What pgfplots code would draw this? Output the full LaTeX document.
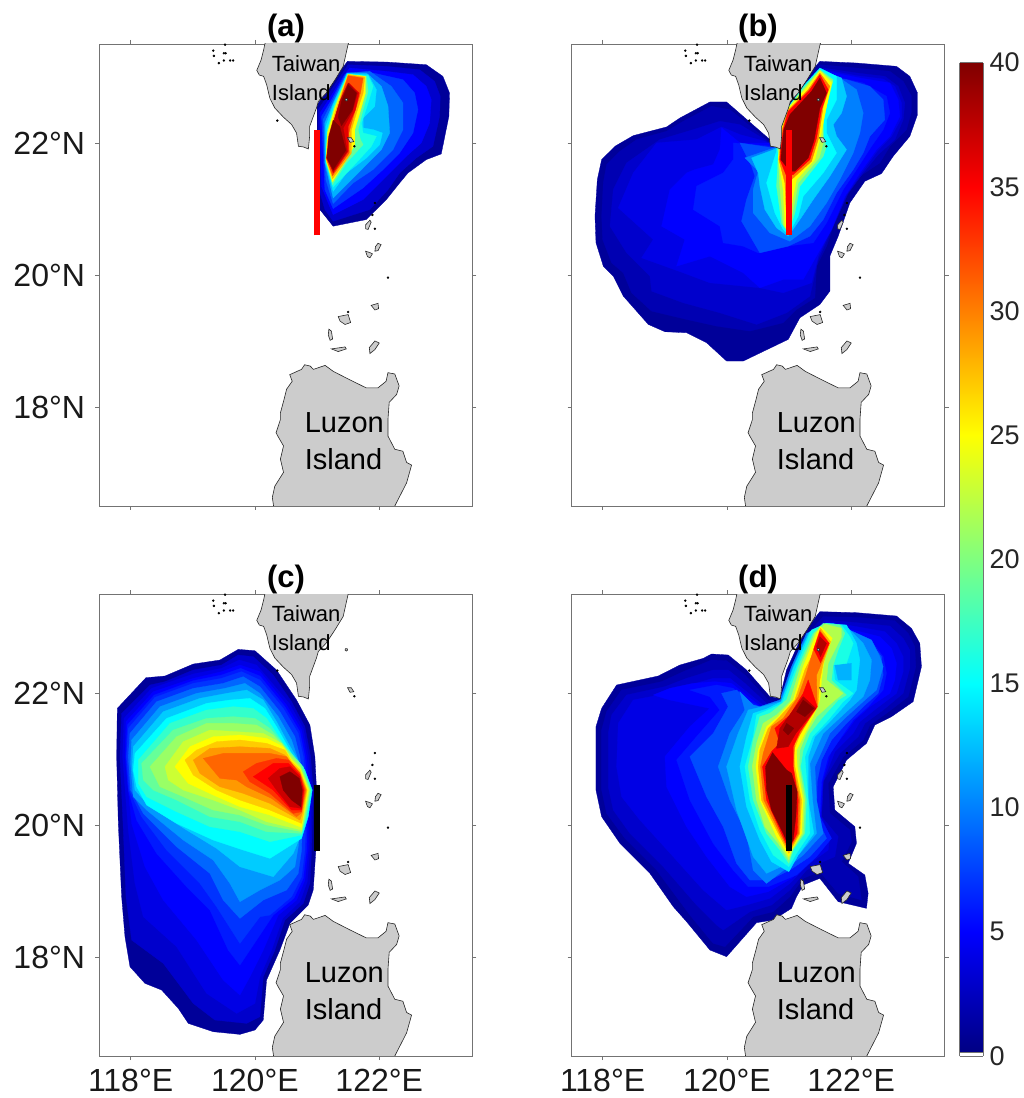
\documentclass[border=0pt]{standalone}
\usepackage{pgfplots}
\pgfplotsset{compat=1.18}
\usepackage{fontspec}
\setmainfont{Liberation Sans}
\newcommand\defjet[1]{%
\pgfmathsetmacro\rr{min(1,max(0,min((#1-15)/10,(45-#1)/10)))}%
\pgfmathsetmacro\gg{min(1,max(0,min((#1-5)/10,(35-#1)/10)))}%
\pgfmathsetmacro\bb{min(1,max(0,min((#1+5)/10,(25-#1)/10)))}%
\definecolor{j#1}{rgb}{\rr,\gg,\bb}}
\defjet{1}\defjet{2}\defjet{3}\defjet{4}\defjet{5}\defjet{6}\defjet{7}\defjet{8}\defjet{9}\defjet{10}\defjet{11}\defjet{12}\defjet{13}\defjet{14}\defjet{15}\defjet{16}\defjet{17}\defjet{18}\defjet{19}\defjet{21}\defjet{22}\defjet{23}\defjet{25}\defjet{27}\defjet{28}\defjet{29}\defjet{30}\defjet{31}\defjet{32}\defjet{33}\defjet{35}\defjet{36}\defjet{37}\defjet{38}\defjet{40}
\definecolor{landg}{rgb}{.8,.8,.8}
\definecolor{coast}{rgb}{.15,.15,.15}
% contours are digitised on the figure; each filter calibrates them to lon/lat
\pgfplotsset{
 pa/.style={x filter/.expression={119.12+x/187},y filter/.expression={23.716-y/198.2}},
 pb/.style={x filter/.expression={117.476+x/186.6},y filter/.expression={23.565-y/198.2}},
 pc/.style={x filter/.expression={117.508+x/186.6},y filter/.expression={23.56-y/198}},
 pd/.style={x filter/.expression={117.797+x/186.6},y filter/.expression={23.409-y/198}},
 mapax/.style={scale only axis,width=373pt,height=462pt,xmin=117.5,xmax=123.5,ymin=16.5,ymax=23.5,
  xtick={118,120,122},ytick={18,20,22},tick align=outside,major tick length=4pt,
  axis line style={black!55,line width=.7pt},tick style={black!55,line width=.6pt},
  tick label style={font=\fontsize{32}{33}\selectfont,text=black!90},
  yticklabel style={xshift=-7pt},xticklabel style={yshift=-6pt},
  title style={font=\bfseries\fontsize{31}{32}\selectfont,at={(0.5,1)},anchor=base,yshift=1pt},
  clip=true},
 nox/.style={xticklabels={}},
 noy/.style={yticklabels={}},
 yesx/.style={xticklabels={118°E,120°E,122°E}},
 yesy/.style={yticklabels={18°N,20°N,22°N}},
}
\newcommand\cn[3]{\addplot[#1,fill=j#2,draw=j#2,line width=.3pt,forget plot] coordinates {#3} --cycle;}
\newcommand\isl[1]{\addplot[fill=landg,draw=coast,line width=.6pt,forget plot] coordinates {#1} --cycle;}
\newcommand\lands{%
\isl{(120.2,23.6)(120.16,23.50)(120.14,23.41)(120.10,23.26)(120.03,23.10)(120.07,23.03)(120.14,23.01)(120.19,22.88)(120.24,22.68)(120.32,22.53)(120.46,22.39)(120.59,22.28)(120.67,22.15)(120.70,21.95)(120.78,21.94)(120.86,21.91)(120.88,22.10)(120.88,22.25)(120.99,22.53)(121.02,22.63)(121.15,22.76)(121.29,22.96)(121.42,23.16)(121.50,23.50)(121.55,23.6)}
\isl{(120.29,16.4)(120.30,16.50)(120.28,16.63)(120.32,16.80)(120.46,17.01)(120.41,17.21)(120.46,17.41)(120.38,17.54)(120.34,17.61)(120.41,17.81)(120.41,17.91)(120.47,18.12)(120.51,18.27)(120.60,18.39)(120.56,18.49)(120.75,18.57)(120.80,18.64)(120.89,18.62)(120.94,18.57)(121.13,18.63)(121.26,18.54)(121.53,18.41)(121.79,18.29)(121.98,18.29)(122.11,18.39)(122.14,18.52)(122.25,18.50)(122.32,18.32)(122.28,18.19)(122.16,18.07)(122.14,17.81)(122.14,17.56)(122.25,17.36)(122.38,17.33)(122.44,17.16)(122.52,17.12)(122.44,16.85)(122.25,16.50)(122.2,16.4)}
\isl{(121.87,19.54)(121.98,19.57)(121.99,19.49)(121.93,19.47)}
\isl{(121.34,19.37)(121.50,19.40)(121.54,19.28)(121.45,19.25)(121.37,19.30)}
\isl{(121.19,19.18)(121.23,19.15)(121.25,19.03)(121.21,19.01)(121.18,19.09)}
\isl{(121.23,18.88)(121.45,18.91)(121.47,18.88)(121.34,18.84)}
\isl{(121.84,18.90)(121.93,19.0)(122.0,18.97)(121.93,18.87)(121.85,18.81)}
\isl{(121.85,20.83)(121.87,20.80)(121.82,20.69)(121.78,20.70)(121.78,20.76)}
\isl{(121.98,20.48)(122.03,20.46)(121.98,20.37)(121.93,20.36)(121.94,20.43)}
\isl{(121.78,20.36)(121.85,20.34)(121.89,20.32)(121.85,20.26)(121.81,20.28)}
\isl{(121.49,22.08)(121.55,22.08)(121.59,22.02)(121.53,22.01)}
\isl{(121.455,22.67)(121.485,22.67)(121.49,22.65)(121.47,22.635)(121.45,22.65)}
\addplot[only marks,mark=*,mark size=1pt,black,forget plot] coordinates {(119.50,23.36)(119.53,23.36)(119.33,23.40)(119.34,23.32)(119.42,23.21)(119.50,23.25)(119.60,23.25)(119.65,23.25)(119.52,23.49)(120.36,22.34)(121.60,21.95)(121.93,21.09)(121.89,20.91)(121.93,20.70)(122.14,19.96)(121.50,19.44)};
}
\newcommand\labels{%
\node[anchor=base west,font=\fontsize{22}{24}\selectfont,inner sep=0pt] at (axis cs:120.27,23.08) {Taiwan};
\node[anchor=base west,font=\fontsize{22}{24}\selectfont,inner sep=0pt] at (axis cs:120.27,22.64) {Island};
\node[anchor=base west,font=\fontsize{29}{30}\selectfont,inner sep=0pt] at (axis cs:120.80,17.61) {Luzon};
\node[anchor=base west,font=\fontsize{29}{30}\selectfont,inner sep=0pt] at (axis cs:120.80,17.06) {Island};
}
\begin{document}
\begin{tikzpicture}
\path[use as bounding box] (0,0) rectangle (1024pt,1098pt);
% ---------- (a)
\begin{axis}[mapax,nox,yesy,at={(99.5pt,592pt)},title={(a)}]
\cn{pa}{1}{(352,225)(380,185)(420,125)(443,95)(560,97)(680,105)(730,140)(750,190)(748,260)(725,373)(680,390)(625,430)(600,460)(560,510)(500,570)(400,590)(360,540)(352,400)}
\cn{pa}{3}{(355,240)(385,195)(425,135)(445,105)(560,110)(660,120)(705,155)(722,200)(720,260)(700,350)(650,385)(600,430)(565,480)(510,540)(400,575)(375,540)(358,480)}
\cn{pa}{5}{(360,250)(390,205)(430,140)(450,115)(560,125)(640,135)(680,170)(695,210)(690,280)(665,340)(620,380)(580,420)(540,460)(490,510)(400,555)(385,520)(365,470)}
\cn{pa}{7}{(365,260)(395,210)(435,135)(520,130)(610,150)(645,190)(655,240)(640,310)(600,370)(550,420)(490,475)(400,537)(375,480)}
\cn{pa}{9}{(370,270)(395,220)(440,130)(510,125)(575,170)(610,220)(610,300)(580,360)(520,420)(460,460)(400,522)(378,450)}
\cn{pa}{12}{(375,280)(400,220)(442,130)(500,130)(545,170)(565,230)(570,310)(545,360)(490,415)(400,505)(375,400)}
\cn{pa}{14}{(378,290)(400,225)(442,132)(505,135)(530,180)(525,230)(490,265)(490,295)(520,300)(548,310)(540,345)(500,385)(440,430)(400,485)(377,400)}
\cn{pa}{16}{(382,300)(402,230)(443,133)(505,138)(520,170)(505,220)(485,280)(490,310)(530,320)(515,350)(460,410)(400,472)(379,400)}
\cn{pa}{19}{(382,305)(403,232)(444,134)(500,140)(505,185)(490,240)(475,300)(482,330)(490,345)(440,400)(398,465)(380,400)}
\cn{pa}{25}{(383,310)(405,235)(445,134)(497,140)(497,190)(480,250)(465,300)(465,345)(440,390)(398,456)(378,390)}
\cn{pa}{28}{(385,320)(410,235)(445,135)(495,142)(490,190)(470,250)(455,300)(455,370)(398,447)(380,390)}
\cn{pa}{32}{(385,330)(412,240)(445,138)(490,145)(482,190)(458,270)(447,310)(448,370)(398,438)(380,388)}
\cn{pa}{36}{(388,320)(415,235)(447,160)(478,190)(467,240)(445,290)(445,365)(400,430)(383,385)}
\cn{pa}{38}{(388,330)(405,265)(420,215)(445,160)(473,190)(458,245)(430,295)(442,365)(400,425)(380,385)}
\cn{pa}{40}{(445,165)(470,190)(458,240)(425,288)(415,262)(425,215)}
\cn{pa}{40}{(400,272)(420,292)(438,362)(400,420)(382,385)(387,320)}
\lands\labels
\addplot[red,line width=6.3pt,forget plot] coordinates {(121,20.6)(121,22.2)};
\end{axis}
% ---------- (b)
\begin{axis}[mapax,nox,noy,at={(571.5pt,592pt)},title={(b)}]
\cn{pb}{1}{(600,300)(470,187)(420,187)(330,235)(290,262)(190,288)(135,320)(95,360)(82,420)(75,530)(78,610)(100,680)(130,710)(160,770)(235,855)(285,877)(350,880)(410,910)(470,965)(520,965)(655,900)(690,835)(750,795)(780,755)(780,650)(805,590)(840,490)(885,425)(935,402)(970,350)(1020,290)(1043,225)(1043,160)(1020,110)(980,80)(860,70)(750,65)(720,100)(650,205)(635,260)(630,320)(615,325)}
\cn{pb}{2}{(590,300)(480,210)(425,200)(340,245)(290,275)(200,300)(150,335)(110,375)(100,430)(95,530)(98,600)(125,670)(160,700)(185,760)(245,815)(350,840)(440,860)(540,875)(640,850)(680,810)(735,775)(740,680)(770,620)(790,560)(830,470)(870,410)(930,370)(960,320)(1010,270)(1025,215)(1025,170)(1000,125)(960,95)(860,85)(750,75)(725,110)(655,210)(640,260)(632,320)(615,325)}
\cn{pb}{3}{(585,300)(510,255)(450,245)(370,270)(270,300)(170,370)(130,450)(120,560)(170,640)(240,710)(245,755)(340,790)(450,820)(560,855)(650,820)(720,770)(745,660)(790,560)(835,460)(880,400)(925,345)(975,300)(1000,240)(1005,190)(985,140)(945,110)(860,100)(760,85)(730,115)(660,215)(645,260)(635,320)(612,325)}
\cn{pb}{4}{(585,305)(510,285)(455,262)(380,300)(260,310)(190,400)(145,505)(250,600)(215,655)(340,700)(420,730)(570,745)(640,760)(725,730)(745,650)(790,555)(830,465)(875,400)(922,335)(965,290)(995,235)(995,190)(975,140)(940,118)(860,108)(765,90)(732,120)(660,225)(648,260)(637,320)(612,325)}
\cn{pb}{5}{(600,310)(510,310)(455,265)(450,330)(430,375)(375,390)(350,400)(300,450)(275,560)(345,600)(320,680)(420,650)(520,700)(570,745)(640,720)(700,720)(745,640)(785,570)(825,470)(870,400)(920,330)(960,290)(990,230)(985,180)(960,130)(870,115)(770,95)(735,125)(660,230)(650,260)(640,320)(615,325)}
\cn{pb}{6}{(605,320)(515,312)(490,310)(490,360)(460,400)(380,440)(370,510)(450,560)(460,610)(520,620)(565,640)(650,620)(730,610)(770,550)(820,450)(860,390)(905,320)(940,270)(960,220)(950,170)(880,130)(790,110)(740,130)(665,225)(650,265)(640,320)(615,325)}
\cn{pb}{8}{(610,325)(510,310)(545,380)(555,410)(530,480)(515,545)(570,640)(655,620)(720,590)(760,540)(800,460)(850,390)(880,340)(900,290)(945,240)(940,180)(900,140)(830,120)(770,110)(745,130)(665,225)(650,270)(640,320)}
\cn{pb}{10}{(612,325)(525,355)(565,395)(550,450)(550,520)(600,580)(660,605)(720,560)(770,490)(810,420)(850,340)(870,280)(880,220)(860,150)(810,115)(760,100)(680,200)(655,260)(640,320)}
\cn{pb}{13}{(612,330)(545,355)(565,400)(570,440)(585,510)(620,565)(655,590)(690,540)(730,480)(780,410)(830,330)(800,290)(790,255)(815,220)(830,170)(815,115)(750,90)(660,205)(645,260)(630,320)}
\cn{pb}{15}{(620,335)(590,430)(615,520)(640,570)(655,585)(685,530)(700,470)(760,400)(800,340)(770,280)(770,240)(800,180)(800,110)(750,85)(700,140)(650,210)(635,260)(622,320)}
\cn{pb}{19}{(625,345)(620,440)(635,550)(655,580)(675,520)(690,440)(760,350)(770,320)(750,270)(770,200)(790,120)(750,90)(700,145)(650,210)(635,260)(622,320)}
\cn{pb}{22}{(625,350)(630,445)(640,555)(655,578)(672,500)(685,430)(748,355)(760,310)(760,235)(778,165)(788,125)(750,92)(705,145)(651,210)(636,260)(626,325)}
\cn{pb}{25}{(625,355)(640,450)(645,560)(655,575)(668,480)(680,420)(735,360)(750,300)(770,200)(785,130)(750,95)(710,145)(652,210)(637,260)(630,330)}
\cn{pb}{30}{(627,360)(645,430)(650,540)(660,540)(665,420)(725,365)(745,300)(760,200)(780,140)(750,100)(715,150)(652,215)(637,270)(630,330)}
\cn{pb}{35}{(630,360)(650,410)(670,405)(720,360)(740,295)(755,210)(775,150)(750,105)(720,150)(655,215)(640,270)(632,330)}
\cn{pb}{40}{(633,360)(660,395)(675,395)(715,355)(733,300)(750,205)(770,160)(750,115)(725,155)(660,225)(642,270)(635,330)}
\lands\labels
\addplot[red,line width=6.3pt,forget plot] coordinates {(121,20.6)(121,22.2)};
\end{axis}
% ---------- (c)
\begin{axis}[mapax,yesx,yesy,at={(99.5pt,42pt)},title={(c)}]
\cn{pc}{1}{(52,355)(138,263)(195,258)(280,222)(360,210)(415,178)(465,182)(530,240)(590,330)(630,405)(645,500)(650,600)(648,780)(640,900)(625,945)(570,1000)(540,1080)(500,1170)(490,1290)(465,1320)(420,1333)(340,1325)(265,1300)(235,1255)(185,1200)(135,1180)(90,1130)(75,1040)(65,920)(55,700)(50,500)}
\cn{pc}{3}{(65,370)(150,285)(195,275)(280,240)(365,225)(415,195)(460,200)(520,255)(575,335)(615,410)(632,500)(640,600)(635,780)(630,880)(610,940)(555,990)(525,1080)(490,1160)(480,1280)(440,1300)(345,1290)(280,1240)(190,1120)(95,1050)(78,920)(70,720)(60,500)}
\cn{pc}{4}{(72,385)(155,295)(280,252)(365,235)(418,210)(470,225)(568,340)(610,415)(626,500)(635,600)(630,780)(622,875)(600,935)(548,985)(515,1080)(480,1160)(465,1240)(410,1270)(320,1210)(230,1070)(130,980)(105,880)(85,720)(68,500)}
\cn{pc}{5}{(78,395)(160,305)(280,265)(365,245)(420,225)(480,245)(560,345)(605,420)(620,500)(630,600)(625,780)(615,870)(590,930)(535,975)(490,1080)(450,1160)(420,1215)(370,1170)(290,1050)(190,930)(135,830)(95,700)(75,500)}
\cn{pc}{6}{(82,405)(163,315)(280,272)(365,255)(422,235)(480,258)(555,350)(600,425)(615,500)(625,600)(620,780)(610,865)(582,925)(520,975)(470,1050)(420,1125)(385,1080)(330,960)(260,890)(170,790)(110,690)(85,600)(78,500)}
\cn{pc}{7}{(85,415)(165,322)(280,280)(365,265)(425,245)(480,270)(550,355)(595,430)(610,500)(620,600)(615,780)(605,860)(575,920)(510,975)(480,980)(420,1060)(350,950)(300,880)(200,780)(125,680)(88,600)(80,500)}
\cn{pc}{9}{(90,430)(170,335)(280,295)(370,280)(430,260)(480,290)(540,365)(585,440)(600,500)(610,600)(605,780)(595,850)(560,900)(490,930)(420,985)(370,930)(330,850)(230,770)(130,670)(92,600)(85,500)}
\cn{pc}{11}{(95,450)(180,350)(290,310)(375,295)(435,280)(480,310)(535,380)(575,450)(595,510)(615,600)(595,770)(585,830)(540,870)(480,900)(420,935)(390,880)(340,810)(250,750)(140,660)(100,620)(92,520)}
\cn{pc}{13}{(100,470)(190,365)(300,325)(380,310)(440,300)(490,330)(530,395)(565,460)(600,520)(625,600)(605,730)(580,790)(520,860)(420,830)(350,775)(260,720)(150,650)(105,600)(97,530)}
\cn{pc}{15}{(105,490)(200,385)(320,340)(390,330)(450,325)(495,355)(530,410)(575,490)(615,540)(637,600)(625,680)(605,745)(510,805)(430,780)(340,750)(230,700)(140,645)(110,590)(100,540)}
\cn{pc}{17}{(115,510)(210,400)(320,360)(400,350)(460,355)(500,385)(530,430)(570,490)(610,530)(634,600)(620,680)(605,735)(510,755)(420,725)(330,710)(230,665)(140,620)(115,580)}
\cn{pc}{19}{(125,520)(220,420)(320,385)(400,380)(465,385)(510,415)(565,480)(605,525)(632,600)(618,680)(605,730)(500,725)(420,695)(330,680)(230,630)(160,600)(130,570)}
\cn{pc}{21}{(150,530)(230,440)(320,400)(400,400)(470,405)(520,435)(565,485)(600,525)(630,600)(615,680)(605,725)(500,705)(420,675)(340,660)(250,620)(180,590)}
\cn{pc}{23}{(195,530)(250,455)(330,420)(410,425)(490,430)(545,460)(575,505)(600,530)(628,600)(612,680)(605,720)(500,695)(420,660)(340,630)(250,600)(205,570)}
\cn{pc}{25}{(225,530)(270,470)(340,440)(420,435)(500,445)(550,470)(575,510)(600,535)(625,600)(610,680)(605,712)(510,675)(420,650)(340,615)(265,580)}
\cn{pc}{27}{(255,510)(290,480)(350,455)(420,450)(500,460)(555,480)(575,515)(600,540)(622,600)(610,675)(605,700)(510,660)(420,630)(350,600)(280,555)}
\cn{pc}{29}{(280,510)(330,475)(420,470)(510,475)(555,495)(570,515)(600,545)(620,600)(607,670)(600,690)(510,640)(430,610)(360,590)(300,550)}
\cn{pc}{31}{(310,505)(370,490)(440,490)(510,490)(560,500)(600,550)(618,600)(605,668)(590,680)(515,625)(440,590)(410,570)(360,565)}
\cn{pc}{33}{(430,545)(470,520)(530,505)(565,510)(600,550)(615,600)(605,665)(580,670)(510,610)(450,575)}
\cn{pc}{35}{(460,560)(520,520)(565,520)(600,555)(612,600)(605,660)(575,660)(520,600)}
\cn{pc}{37}{(505,565)(540,535)(570,530)(600,560)(610,600)(605,655)(570,650)(530,600)}
\cn{pc}{40}{(540,560)(570,545)(598,565)(607,600)(603,650)(575,630)(550,600)}
\lands\labels
\addplot[black,line width=6.3pt,forget plot] coordinates {(121,19.6)(121,20.6)};
\end{axis}
% ---------- (d)
\begin{axis}[mapax,yesx,noy,at={(571.5pt,42pt)},title={(d)}]
\cn{pd}{1}{(690,35)(800,38)(920,48)(965,85)(990,130)(995,200)(970,305)(905,350)(855,375)(830,430)(770,480)(730,560)(735,630)(795,680)(800,730)(775,790)(825,825)(835,880)(830,925)(745,905)(690,835)(640,855)(620,890)(605,925)(550,960)(500,968)(410,1070)(360,1050)(290,965)(250,920)(180,820)(90,730)(35,650)(18,570)(18,380)(35,325)(80,255)(205,228)(270,195)(340,175)(365,162)(415,165)(470,210)(540,290)(570,295)(590,210)(640,100)}
\cn{pd}{2}{(700,50)(800,52)(915,62)(955,100)(975,140)(978,200)(955,290)(890,340)(840,375)(820,420)(760,470)(715,550)(720,640)(780,690)(785,725)(755,785)(805,830)(815,900)(745,880)(690,815)(640,835)(600,890)(550,935)(490,950)(405,1040)(370,1030)(300,945)(200,810)(105,715)(50,640)(35,570)(35,390)(50,335)(95,270)(215,245)(280,215)(365,180)(410,182)(465,225)(535,300)(575,305)(600,215)(650,105)}
\cn{pd}{3}{(705,60)(800,68)(900,78)(940,115)(960,150)(960,205)(940,280)(880,330)(825,370)(805,410)(750,460)(700,545)(695,650)(745,710)(735,770)(700,785)(650,810)(600,870)(545,915)(480,935)(400,990)(380,975)(320,915)(220,800)(120,700)(70,630)(55,560)(55,400)(65,345)(110,285)(225,260)(290,235)(370,210)(415,210)(465,250)(530,310)(575,320)(610,220)(660,110)}
\cn{pd}{4}{(710,65)(800,80)(885,95)(920,130)(940,170)(940,215)(920,280)(860,325)(810,365)(790,400)(735,455)(700,545)(695,650)(720,710)(715,750)(660,790)(600,850)(540,895)(470,915)(410,930)(340,870)(250,770)(150,660)(95,590)(80,500)(85,370)(130,300)(235,280)(300,255)(370,235)(420,235)(470,275)(525,320)(580,335)(620,225)(670,115)}
\cn{pd}{5}{(715,70)(790,90)(870,110)(905,145)(920,190)(915,240)(900,280)(840,320)(795,360)(770,395)(725,450)(698,545)(692,650)(715,715)(670,770)(605,835)(535,875)(470,890)(420,860)(350,770)(290,680)(230,560)(225,470)(300,380)(360,325)(240,300)(190,285)(240,265)(310,250)(375,245)(425,250)(475,290)(520,325)(585,345)(625,230)(680,120)}
\cn{pd}{6}{(720,75)(780,100)(850,130)(880,170)(890,220)(880,270)(835,320)(790,360)(755,410)(715,470)(695,545)(690,650)(725,715)(680,770)(620,825)(535,860)(475,860)(430,810)(370,730)(300,600)(260,480)(320,410)(390,330)(360,290)(300,270)(380,255)(430,265)(480,305)(520,325)(590,345)(630,235)(685,125)}
\cn{pd}{8}{(725,75)(775,105)(840,125)(875,170)(880,225)(865,280)(820,320)(770,370)(725,420)(695,480)(682,545)(680,650)(710,715)(660,770)(600,810)(540,840)(480,840)(440,790)(400,680)(350,590)(300,470)(370,400)(415,320)(395,280)(440,270)(490,315)(520,330)(590,350)(630,240)(690,130)}
\cn{pd}{10}{(730,70)(790,95)(845,120)(870,170)(880,200)(860,270)(825,300)(770,350)(720,400)(675,500)(680,600)(700,700)(640,765)(595,800)(530,850)(490,810)(470,700)(420,600)(385,500)(420,400)(465,330)(450,275)(490,315)(510,320)(570,300)(605,200)(650,100)}
\cn{pd}{12}{(700,75)(775,85)(820,130)(845,180)(840,240)(820,290)(770,335)(700,400)(660,490)(668,600)(680,700)(630,760)(595,790)(530,820)(490,770)(440,630)(410,500)(445,400)(475,330)(510,322)(573,305)(610,200)(655,100)}
\cn{pd}{14}{(710,70)(770,75)(800,130)(810,180)(800,270)(780,300)(720,365)(675,410)(655,470)(655,600)(672,700)(625,765)(597,815)(545,785)(510,720)(470,620)(450,500)(470,410)(490,340)(530,327)(575,305)(612,200)(660,95)}
\cn{pd}{12}{(735,195)(785,190)(785,240)(745,240)}
\cn{pd}{16}{(710,70)(755,75)(780,110)(790,130)(770,190)(730,195)(735,240)(790,280)(760,305)(715,360)(668,410)(645,470)(655,600)(660,700)(620,760)(597,800)(550,765)(510,690)(480,600)(465,500)(490,410)(500,345)(535,330)(577,310)(620,200)(665,90)}
\cn{pd}{19}{(700,70)(750,75)(765,100)(745,150)(730,195)(725,240)(770,285)(745,300)(700,350)(660,400)(640,450)(632,500)(650,600)(645,700)(610,750)(597,790)(570,750)(530,700)(490,600)(475,500)(490,420)(510,350)(540,340)(590,300)(625,200)(670,100)}
\cn{pd}{22}{(705,72)(755,85)(755,110)(730,160)(715,190)(710,240)(760,280)(730,305)(680,350)(650,400)(630,450)(628,500)(645,600)(640,700)(610,745)(597,780)(565,730)(525,680)(500,600)(487,500)(500,430)(520,370)(560,345)(600,305)(632,200)(675,100)}
\cn{pd}{25}{(692,80)(727,115)(705,175)(700,200)(695,240)(690,300)(670,350)(645,400)(620,450)(622,500)(640,600)(635,700)(605,750)(597,770)(560,710)(510,600)(498,500)(505,450)(530,380)(565,350)(610,300)(640,200)(680,100)}
\cn{pd}{28}{(692,85)(722,125)(700,190)(690,240)(684,320)(660,355)(630,405)(612,450)(615,500)(635,600)(630,700)(597,760)(565,700)(515,600)(505,500)(510,450)(535,385)(570,350)(615,300)(645,210)(675,150)}
\cn{pd}{31}{(690,90)(718,130)(695,190)(680,225)(682,320)(640,385)(615,430)(610,500)(630,600)(627,700)(597,752)(570,700)(522,600)(512,500)(520,460)(545,380)(580,355)(625,290)(648,225)(672,145)}
\cn{pd}{35}{(655,240)(682,320)(630,395)(610,440)(610,500)(625,600)(622,700)(597,748)(575,700)(530,600)(518,500)(545,455)(570,430)(555,385)(600,345)(640,280)}
\cn{pd}{35}{(690,95)(718,130)(692,188)(672,148)}
\cn{pd}{38}{(570,385)(625,310)(640,290)(678,325)(618,400)(595,440)(560,445)}
\cn{pd}{38}{(690,110)(710,130)(692,170)(680,140)}
\cn{pd}{40}{(548,458)(590,510)(605,520)(622,575)(618,650)(610,720)(597,740)(580,700)(545,630)(530,570)(527,500)}
\cn{pd}{40}{(640,300)(672,325)(645,350)(620,335)}
\cn{pd}{40}{(590,370)(612,385)(595,405)(580,390)}
\lands\labels
\addplot[black,line width=6.3pt,forget plot] coordinates {(121,19.6)(121,20.6)};
\end{axis}
% ---------- colourbar
\begin{axis}[scale only axis,at={(959.5pt,42pt)},width=23.5pt,height=993.3pt,xmin=0,xmax=1,ymin=0,ymax=40,
 xtick=\empty,ytick={0,5,10,15,20,25,30,35,40},yticklabels={0,5,10,15,20,25,30,35,40},ytick pos=right,yticklabel pos=right,
 major tick length=0pt,axis line style={black!55,line width=.7pt},view={0}{90},colormap/jet,point meta min=0,point meta max=40,
 tick label style={font=\fontsize{27}{28}\selectfont,text=black!85},yticklabel style={xshift=3pt},axis on top]
\addplot3[surf,shader=interp,point meta=y,mesh/rows=2,forget plot] coordinates {(0,0,0)(1,0,0)(0,40,0)(1,40,0)};
\addplot[fill=white,draw=black!55,line width=.5pt,forget plot] coordinates {(0,0)(1,0)(1,0.17)(0,0.17)} --cycle;
\end{axis}
\end{tikzpicture}
\end{document}
